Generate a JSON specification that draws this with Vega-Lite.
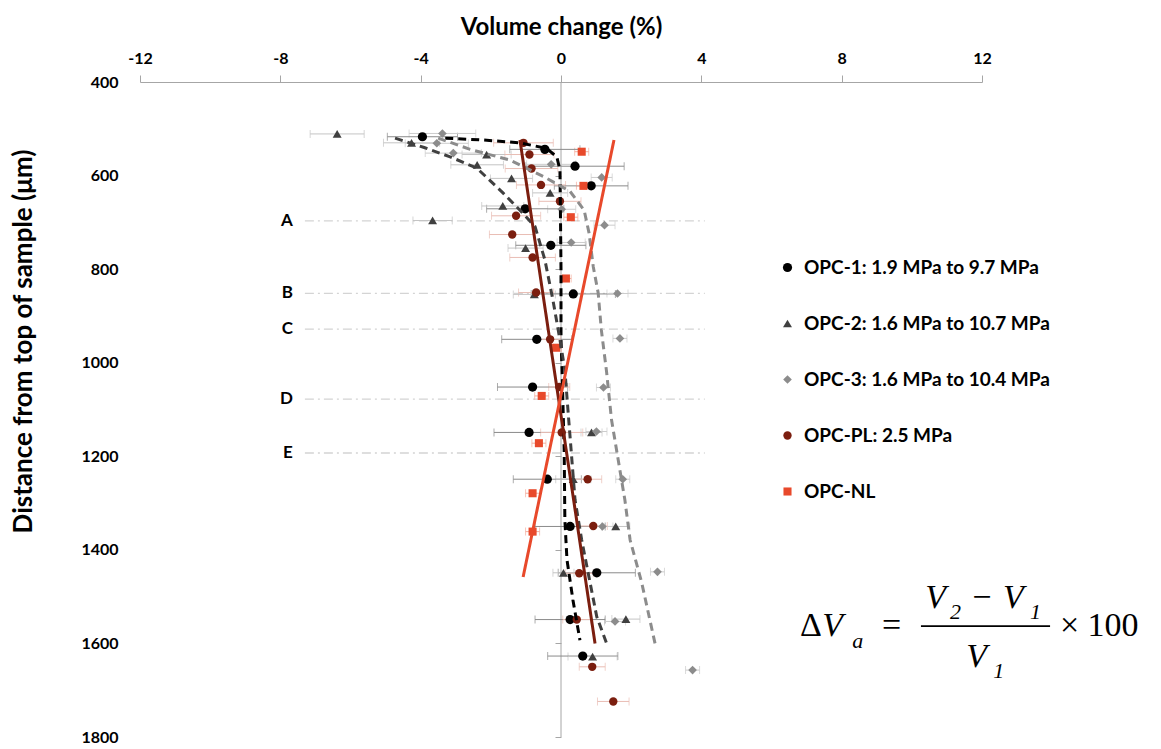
{
  "$schema": "https://vega.github.io/schema/vega-lite/v6.json",
  "width": 842,
  "height": 655,
  "autosize": {"type": "none"},
  "padding": {"left": 140, "top": 82, "right": 179, "bottom": 12},
  "background": "white",
  "config": {"view": {"stroke": null}, "font": "Lato"},
  "datasets": {
    "refs": [
      {"lab": "A", "x1": -7.3, "x2": 4.1, "d": 697},
      {"lab": "B", "x1": -7.3, "x2": 4.1, "d": 852},
      {"lab": "C", "x1": -7.3, "x2": 4.1, "d": 928},
      {"lab": "D", "x1": -7.3, "x2": 4.1, "d": 1078},
      {"lab": "E", "x1": -7.3, "x2": 4.1, "d": 1193}
    ],
    "pts": [
      {"s": "OPC-1: 1.9 MPa to 9.7 MPa", "x": -3.95, "d": 517, "e": 1.0},
      {"s": "OPC-1: 1.9 MPa to 9.7 MPa", "x": -0.46, "d": 544, "e": 1.0},
      {"s": "OPC-1: 1.9 MPa to 9.7 MPa", "x": 0.40, "d": 580, "e": 1.4},
      {"s": "OPC-1: 1.9 MPa to 9.7 MPa", "x": 0.86, "d": 622, "e": 1.05},
      {"s": "OPC-1: 1.9 MPa to 9.7 MPa", "x": -1.02, "d": 671, "e": 1.1},
      {"s": "OPC-1: 1.9 MPa to 9.7 MPa", "x": -0.29, "d": 749, "e": 1.0},
      {"s": "OPC-1: 1.9 MPa to 9.7 MPa", "x": 0.35, "d": 853, "e": 1.2},
      {"s": "OPC-1: 1.9 MPa to 9.7 MPa", "x": -0.69, "d": 950, "e": 1.0},
      {"s": "OPC-1: 1.9 MPa to 9.7 MPa", "x": -0.81, "d": 1052, "e": 1.0},
      {"s": "OPC-1: 1.9 MPa to 9.7 MPa", "x": -0.91, "d": 1149, "e": 1.0},
      {"s": "OPC-1: 1.9 MPa to 9.7 MPa", "x": -0.39, "d": 1249, "e": 0.97},
      {"s": "OPC-1: 1.9 MPa to 9.7 MPa", "x": 0.26, "d": 1350, "e": 1.0},
      {"s": "OPC-1: 1.9 MPa to 9.7 MPa", "x": 1.02, "d": 1449, "e": 1.1},
      {"s": "OPC-1: 1.9 MPa to 9.7 MPa", "x": 0.26, "d": 1549, "e": 1.0},
      {"s": "OPC-1: 1.9 MPa to 9.7 MPa", "x": 0.62, "d": 1627, "e": 1.0},
      {"s": "OPC-2: 1.6 MPa to 10.7 MPa", "x": -6.38, "d": 511, "e": 0.77},
      {"s": "OPC-2: 1.6 MPa to 10.7 MPa", "x": -4.26, "d": 530, "e": 0.8},
      {"s": "OPC-2: 1.6 MPa to 10.7 MPa", "x": -2.12, "d": 555, "e": 0.7},
      {"s": "OPC-2: 1.6 MPa to 10.7 MPa", "x": -2.39, "d": 577, "e": 0.75},
      {"s": "OPC-2: 1.6 MPa to 10.7 MPa", "x": -1.41, "d": 606, "e": 0.6},
      {"s": "OPC-2: 1.6 MPa to 10.7 MPa", "x": -0.31, "d": 637, "e": 0.5},
      {"s": "OPC-2: 1.6 MPa to 10.7 MPa", "x": -1.66, "d": 665, "e": 0.6},
      {"s": "OPC-2: 1.6 MPa to 10.7 MPa", "x": -3.66, "d": 696, "e": 0.56},
      {"s": "OPC-2: 1.6 MPa to 10.7 MPa", "x": -1.01, "d": 755, "e": 0.5},
      {"s": "OPC-2: 1.6 MPa to 10.7 MPa", "x": -0.76, "d": 854, "e": 0.6},
      {"s": "OPC-2: 1.6 MPa to 10.7 MPa", "x": 0.87, "d": 1149, "e": 0.3},
      {"s": "OPC-2: 1.6 MPa to 10.7 MPa", "x": 0.35, "d": 1249, "e": 0.5},
      {"s": "OPC-2: 1.6 MPa to 10.7 MPa", "x": 1.56, "d": 1350, "e": 0.4},
      {"s": "OPC-2: 1.6 MPa to 10.7 MPa", "x": 0.07, "d": 1449, "e": 0.3},
      {"s": "OPC-2: 1.6 MPa to 10.7 MPa", "x": 1.85, "d": 1548, "e": 0.4},
      {"s": "OPC-2: 1.6 MPa to 10.7 MPa", "x": 0.90, "d": 1628, "e": 0.7},
      {"s": "OPC-3: 1.6 MPa to 10.4 MPa", "x": -3.38, "d": 510, "e": 0.95},
      {"s": "OPC-3: 1.6 MPa to 10.4 MPa", "x": -3.54, "d": 531, "e": 0.9},
      {"s": "OPC-3: 1.6 MPa to 10.4 MPa", "x": -3.07, "d": 552, "e": 0.8},
      {"s": "OPC-3: 1.6 MPa to 10.4 MPa", "x": -0.28, "d": 576, "e": 0.7},
      {"s": "OPC-3: 1.6 MPa to 10.4 MPa", "x": 1.16, "d": 604, "e": 0.3},
      {"s": "OPC-3: 1.6 MPa to 10.4 MPa", "x": 0.02, "d": 672, "e": 0.4},
      {"s": "OPC-3: 1.6 MPa to 10.4 MPa", "x": 1.24, "d": 706, "e": 0.3},
      {"s": "OPC-3: 1.6 MPa to 10.4 MPa", "x": 0.29, "d": 743, "e": 0.4},
      {"s": "OPC-3: 1.6 MPa to 10.4 MPa", "x": 1.61, "d": 852, "e": 0.3},
      {"s": "OPC-3: 1.6 MPa to 10.4 MPa", "x": 1.68, "d": 948, "e": 0.2},
      {"s": "OPC-3: 1.6 MPa to 10.4 MPa", "x": 1.21, "d": 1053, "e": 0.2},
      {"s": "OPC-3: 1.6 MPa to 10.4 MPa", "x": 1.01, "d": 1147, "e": 0.3},
      {"s": "OPC-3: 1.6 MPa to 10.4 MPa", "x": 1.76, "d": 1249, "e": 0.2},
      {"s": "OPC-3: 1.6 MPa to 10.4 MPa", "x": 1.18, "d": 1350, "e": 0.3},
      {"s": "OPC-3: 1.6 MPa to 10.4 MPa", "x": 2.75, "d": 1447, "e": 0.2},
      {"s": "OPC-3: 1.6 MPa to 10.4 MPa", "x": 1.54, "d": 1553, "e": 0.3},
      {"s": "OPC-3: 1.6 MPa to 10.4 MPa", "x": 3.75, "d": 1657, "e": 0.2},
      {"s": "OPC-PL: 2.5 MPa", "x": -1.07, "d": 530, "e": 0.85},
      {"s": "OPC-PL: 2.5 MPa", "x": -0.90, "d": 555, "e": 0.7},
      {"s": "OPC-PL: 2.5 MPa", "x": -0.84, "d": 585, "e": 0.75},
      {"s": "OPC-PL: 2.5 MPa", "x": -0.57, "d": 620, "e": 0.7},
      {"s": "OPC-PL: 2.5 MPa", "x": -0.03, "d": 655, "e": 0.6},
      {"s": "OPC-PL: 2.5 MPa", "x": -1.28, "d": 686, "e": 0.7},
      {"s": "OPC-PL: 2.5 MPa", "x": -1.39, "d": 726, "e": 0.65},
      {"s": "OPC-PL: 2.5 MPa", "x": -0.81, "d": 775, "e": 0.65},
      {"s": "OPC-PL: 2.5 MPa", "x": -0.71, "d": 850, "e": 0.5},
      {"s": "OPC-PL: 2.5 MPa", "x": -0.31, "d": 950, "e": 0.3},
      {"s": "OPC-PL: 2.5 MPa", "x": -0.05, "d": 1052, "e": 0.3},
      {"s": "OPC-PL: 2.5 MPa", "x": 0.02, "d": 1149, "e": 0.6},
      {"s": "OPC-PL: 2.5 MPa", "x": 0.76, "d": 1249, "e": 0.4},
      {"s": "OPC-PL: 2.5 MPa", "x": 0.92, "d": 1349, "e": 0.4},
      {"s": "OPC-PL: 2.5 MPa", "x": 0.52, "d": 1450, "e": 0.4},
      {"s": "OPC-PL: 2.5 MPa", "x": 0.45, "d": 1549, "e": 0.4},
      {"s": "OPC-PL: 2.5 MPa", "x": 0.89, "d": 1650, "e": 0.37},
      {"s": "OPC-PL: 2.5 MPa", "x": 1.49, "d": 1724, "e": 0.45},
      {"s": "OPC-NL", "x": 0.59, "d": 549, "e": 0.2},
      {"s": "OPC-NL", "x": 0.64, "d": 622, "e": 0.2},
      {"s": "OPC-NL", "x": 0.28, "d": 689, "e": 0.2},
      {"s": "OPC-NL", "x": 0.14, "d": 820, "e": 0.15},
      {"s": "OPC-NL", "x": -0.14, "d": 968, "e": 0.15},
      {"s": "OPC-NL", "x": -0.55, "d": 1071, "e": 0.2},
      {"s": "OPC-NL", "x": -0.63, "d": 1172, "e": 0.2},
      {"s": "OPC-NL", "x": -0.81, "d": 1279, "e": 0.2},
      {"s": "OPC-NL", "x": -0.81, "d": 1361, "e": 0.2}
    ],
    "fits": [
      {"s": "OPC-1: 1.9 MPa to 9.7 MPa", "x": -3.3, "d": 520},
      {"s": "OPC-1: 1.9 MPa to 9.7 MPa", "x": -2.2, "d": 524},
      {"s": "OPC-1: 1.9 MPa to 9.7 MPa", "x": -1.17, "d": 530},
      {"s": "OPC-1: 1.9 MPa to 9.7 MPa", "x": -0.41, "d": 542},
      {"s": "OPC-1: 1.9 MPa to 9.7 MPa", "x": -0.12, "d": 560},
      {"s": "OPC-1: 1.9 MPa to 9.7 MPa", "x": -0.03, "d": 588},
      {"s": "OPC-1: 1.9 MPa to 9.7 MPa", "x": -0.02, "d": 650},
      {"s": "OPC-1: 1.9 MPa to 9.7 MPa", "x": 0.0, "d": 800},
      {"s": "OPC-1: 1.9 MPa to 9.7 MPa", "x": 0.0, "d": 950},
      {"s": "OPC-1: 1.9 MPa to 9.7 MPa", "x": 0.03, "d": 1015},
      {"s": "OPC-1: 1.9 MPa to 9.7 MPa", "x": 0.09, "d": 1186},
      {"s": "OPC-1: 1.9 MPa to 9.7 MPa", "x": 0.11, "d": 1336},
      {"s": "OPC-1: 1.9 MPa to 9.7 MPa", "x": 0.17, "d": 1421},
      {"s": "OPC-1: 1.9 MPa to 9.7 MPa", "x": 0.34, "d": 1507},
      {"s": "OPC-1: 1.9 MPa to 9.7 MPa", "x": 0.54, "d": 1593},
      {"s": "OPC-2: 1.6 MPa to 10.7 MPa", "x": -4.73, "d": 520},
      {"s": "OPC-2: 1.6 MPa to 10.7 MPa", "x": -3.9, "d": 540},
      {"s": "OPC-2: 1.6 MPa to 10.7 MPa", "x": -3.16, "d": 560},
      {"s": "OPC-2: 1.6 MPa to 10.7 MPa", "x": -2.40, "d": 584},
      {"s": "OPC-2: 1.6 MPa to 10.7 MPa", "x": -1.64, "d": 638},
      {"s": "OPC-2: 1.6 MPa to 10.7 MPa", "x": -1.17, "d": 674},
      {"s": "OPC-2: 1.6 MPa to 10.7 MPa", "x": -0.74, "d": 709},
      {"s": "OPC-2: 1.6 MPa to 10.7 MPa", "x": -0.46, "d": 780},
      {"s": "OPC-2: 1.6 MPa to 10.7 MPa", "x": -0.23, "d": 866},
      {"s": "OPC-2: 1.6 MPa to 10.7 MPa", "x": -0.03, "d": 951},
      {"s": "OPC-2: 1.6 MPa to 10.7 MPa", "x": 0.11, "d": 1015},
      {"s": "OPC-2: 1.6 MPa to 10.7 MPa", "x": 0.22, "d": 1122},
      {"s": "OPC-2: 1.6 MPa to 10.7 MPa", "x": 0.40, "d": 1293},
      {"s": "OPC-2: 1.6 MPa to 10.7 MPa", "x": 0.59, "d": 1379},
      {"s": "OPC-2: 1.6 MPa to 10.7 MPa", "x": 1.02, "d": 1543},
      {"s": "OPC-2: 1.6 MPa to 10.7 MPa", "x": 1.30, "d": 1600},
      {"s": "OPC-3: 1.6 MPa to 10.4 MPa", "x": -3.5, "d": 520},
      {"s": "OPC-3: 1.6 MPa to 10.4 MPa", "x": -2.59, "d": 544},
      {"s": "OPC-3: 1.6 MPa to 10.4 MPa", "x": -1.45, "d": 567},
      {"s": "OPC-3: 1.6 MPa to 10.4 MPa", "x": -0.50, "d": 602},
      {"s": "OPC-3: 1.6 MPa to 10.4 MPa", "x": 0.26, "d": 634},
      {"s": "OPC-3: 1.6 MPa to 10.4 MPa", "x": 0.66, "d": 674},
      {"s": "OPC-3: 1.6 MPa to 10.4 MPa", "x": 0.80, "d": 723},
      {"s": "OPC-3: 1.6 MPa to 10.4 MPa", "x": 0.92, "d": 795},
      {"s": "OPC-3: 1.6 MPa to 10.4 MPa", "x": 1.06, "d": 851},
      {"s": "OPC-3: 1.6 MPa to 10.4 MPa", "x": 1.15, "d": 930},
      {"s": "OPC-3: 1.6 MPa to 10.4 MPa", "x": 1.30, "d": 1020},
      {"s": "OPC-3: 1.6 MPa to 10.4 MPa", "x": 1.44, "d": 1122},
      {"s": "OPC-3: 1.6 MPa to 10.4 MPa", "x": 1.82, "d": 1293},
      {"s": "OPC-3: 1.6 MPa to 10.4 MPa", "x": 1.97, "d": 1379},
      {"s": "OPC-3: 1.6 MPa to 10.4 MPa", "x": 2.30, "d": 1470},
      {"s": "OPC-3: 1.6 MPa to 10.4 MPa", "x": 2.68, "d": 1600},
      {"s": "OPC-PL: 2.5 MPa", "x": -1.17, "d": 524},
      {"s": "OPC-PL: 2.5 MPa", "x": 0.97, "d": 1600},
      {"s": "OPC-NL", "x": 1.51, "d": 524},
      {"s": "OPC-NL", "x": -1.08, "d": 1458}
    ],
    "eqUpright": [
      {"t": "Δ", "x": 6.81, "d": 1563},
      {"t": "=", "x": 9.15, "d": 1563},
      {"t": "−", "x": 11.72, "d": 1502},
      {"t": "× 100", "x": 14.22, "d": 1563}
    ],
    "eqItalic": [
      {"t": "V", "x": 7.45, "d": 1563},
      {"t": "V", "x": 10.38, "d": 1502},
      {"t": "V", "x": 12.6, "d": 1502},
      {"t": "V", "x": 11.55, "d": 1629}
    ],
    "eqSub": [
      {"t": "a", "x": 8.3, "d": 1594},
      {"t": "2", "x": 11.09, "d": 1533},
      {"t": "1", "x": 13.37, "d": 1533},
      {"t": "1", "x": 12.32, "d": 1659}
    ],
    "eqBar": [
      {"x1": 10.26, "x2": 13.94, "d": 1563}
    ]
  },
  "layer": [
    {
      "data": {"name": "refs"},
      "mark": {"type": "rule", "color": "#d4d4d4", "strokeWidth": 1.3, "strokeDash": [9, 4, 2, 4]},
      "encoding": {
        "x": {
          "field": "x1", "type": "quantitative",
          "scale": {"domain": [-12, 12], "nice": false, "zero": false},
          "axis": {
            "orient": "top", "title": "Volume change (%)",
            "titleFont": "Lato", "titleFontWeight": "bold", "titleFontSize": 24, "titleColor": "black", "titlePadding": 11,
            "values": [-12, -8, -4, 0, 4, 8, 12], "labelExpr": "'' + datum.value",
            "labelFont": "Lato", "labelFontWeight": "bold", "labelFontSize": 16, "labelColor": "black", "labelPadding": 9, "labelFlush": false,
            "domainColor": "#a6a6a6", "tickColor": "#a6a6a6", "tickSize": 7, "grid": false
          }
        },
        "x2": {"field": "x2"},
        "y": {
          "field": "d", "type": "quantitative",
          "scale": {"domain": [400, 1800], "reverse": true, "nice": false, "zero": false},
          "axis": {
            "orient": "left", "title": "Distance from top of sample  (μm)",
            "titleFont": "Lato", "titleFontWeight": "bold", "titleFontSize": 26, "titleColor": "black",
            "titleX": -117, "titleY": 259, "titleAngle": -90, "titleAlign": "center", "titleBaseline": "middle",
            "values": [400, 600, 800, 1000, 1200, 1400, 1600, 1800], "format": "d",
            "labelFont": "Lato", "labelFontWeight": "bold", "labelFontSize": 16, "labelColor": "black", "labelPadding": 22,
            "domain": false, "ticks": false, "tickSize": 0, "grid": false
          }
        }
      }
    },
    {
      "data": {"name": "refs"},
      "mark": {"type": "text", "align": "right", "baseline": "middle", "dx": -12, "font": "Lato", "fontWeight": "bold", "fontSize": 17, "color": "black"},
      "encoding": {
        "x": {"field": "x1", "type": "quantitative", "axis": null},
        "y": {"field": "d", "type": "quantitative", "axis": null},
        "text": {"field": "lab"}
      }
    },
    {
      "data": {"values": [{}]},
      "mark": {"type": "rule", "color": "#a6a6a6", "strokeWidth": 1},
      "encoding": {
        "x": {"datum": 0, "type": "quantitative", "axis": null},
        "y": {
          "datum": 400, "type": "quantitative",
          "axis": {"orient": "left", "offset": -421, "title": null, "labels": false, "domain": false, "ticks": true, "tickSize": 6, "tickColor": "#a6a6a6", "grid": false, "values": [400, 600, 800, 1000, 1200, 1400, 1600, 1800]}
        },
        "y2": {"datum": 1800}
      }
    },
    {
      "data": {"name": "pts"},
      "mark": {"type": "errorbar", "ticks": {"size": 8}, "thickness": 1},
      "encoding": {
        "x": {"field": "x", "type": "quantitative", "axis": null},
        "xError": {"field": "e"},
        "y": {"field": "d", "type": "quantitative", "axis": null},
        "color": {
          "field": "s", "type": "nominal",
          "scale": {
            "domain": ["OPC-1: 1.9 MPa to 9.7 MPa", "OPC-2: 1.6 MPa to 10.7 MPa", "OPC-3: 1.6 MPa to 10.4 MPa", "OPC-PL: 2.5 MPa", "OPC-NL"],
            "range": ["#8a8a8a", "#c4c4c4", "#cccccc", "#e9bdb4", "#f3ad9c"]
          },
          "legend": null
        }
      }
    },
    {
      "data": {"name": "pts"},
      "mark": {"type": "point", "filled": true, "opacity": 1},
      "encoding": {
        "x": {"field": "x", "type": "quantitative", "axis": null},
        "y": {"field": "d", "type": "quantitative", "axis": null},
        "color": {
          "field": "s", "type": "nominal",
          "scale": {
            "domain": ["OPC-1: 1.9 MPa to 9.7 MPa", "OPC-2: 1.6 MPa to 10.7 MPa", "OPC-3: 1.6 MPa to 10.4 MPa", "OPC-PL: 2.5 MPa", "OPC-NL"],
            "range": ["#000000", "#404040", "#8c8c8c", "#7b1e0f", "#e8492b"]
          },
          "legend": {
            "orient": "none", "legendX": 638, "legendY": 176, "title": null, "padding": 0,
            "labelFont": "Lato", "labelFontWeight": "bold", "labelFontSize": 19, "labelColor": "black",
            "labelOffset": 7, "symbolSize": 26, "rowPadding": 36, "labelLimit": 400
          }
        },
        "shape": {
          "field": "s", "type": "nominal",
          "scale": {
            "domain": ["OPC-1: 1.9 MPa to 9.7 MPa", "OPC-2: 1.6 MPa to 10.7 MPa", "OPC-3: 1.6 MPa to 10.4 MPa", "OPC-PL: 2.5 MPa", "OPC-NL"],
            "range": ["circle", "triangle-up", "diamond", "circle", "square"]
          },
          "legend": {
            "orient": "none", "legendX": 638, "legendY": 176, "title": null, "padding": 0,
            "labelFont": "Lato", "labelFontWeight": "bold", "labelFontSize": 19, "labelColor": "black",
            "labelOffset": 7, "symbolSize": 26, "rowPadding": 36, "labelLimit": 400
          }
        },
        "size": {
          "field": "s", "type": "nominal",
          "scale": {
            "domain": ["OPC-1: 1.9 MPa to 9.7 MPa", "OPC-2: 1.6 MPa to 10.7 MPa", "OPC-3: 1.6 MPa to 10.4 MPa", "OPC-PL: 2.5 MPa", "OPC-NL"],
            "range": [85, 65, 50, 85, 75]
          },
          "legend": null
        }
      }
    },
    {
      "data": {"name": "fits"},
      "mark": {"type": "line", "strokeWidth": 3},
      "encoding": {
        "x": {"field": "x", "type": "quantitative", "axis": null},
        "y": {"field": "d", "type": "quantitative", "axis": null},
        "order": {"field": "d", "type": "quantitative"},
        "color": {
          "field": "s", "type": "nominal",
          "scale": {
            "domain": ["OPC-1: 1.9 MPa to 9.7 MPa", "OPC-2: 1.6 MPa to 10.7 MPa", "OPC-3: 1.6 MPa to 10.4 MPa", "OPC-PL: 2.5 MPa", "OPC-NL"],
            "range": ["#000000", "#404040", "#8c8c8c", "#7b1e0f", "#e8492b"]
          },
          "legend": null
        },
        "strokeDash": {
          "field": "s", "type": "nominal",
          "scale": {
            "domain": ["OPC-1: 1.9 MPa to 9.7 MPa", "OPC-2: 1.6 MPa to 10.7 MPa", "OPC-3: 1.6 MPa to 10.4 MPa", "OPC-PL: 2.5 MPa", "OPC-NL"],
            "range": [[8, 5], [8, 5], [8, 5], [1, 0], [1, 0]]
          },
          "legend": null
        }
      }
    },
    {
      "data": {"name": "eqBar"},
      "mark": {"type": "rule", "color": "black", "strokeWidth": 1.6},
      "encoding": {
        "x": {"field": "x1", "type": "quantitative", "axis": null},
        "x2": {"field": "x2"},
        "y": {"field": "d", "type": "quantitative", "axis": null}
      }
    },
    {
      "data": {"name": "eqUpright"},
      "mark": {"type": "text", "align": "left", "baseline": "middle", "font": "Liberation Serif", "fontSize": 34, "color": "black"},
      "encoding": {
        "x": {"field": "x", "type": "quantitative", "axis": null},
        "y": {"field": "d", "type": "quantitative", "axis": null},
        "text": {"field": "t"}
      }
    },
    {
      "data": {"name": "eqItalic"},
      "mark": {"type": "text", "align": "left", "baseline": "middle", "font": "Liberation Serif", "fontStyle": "italic", "fontSize": 34, "color": "black"},
      "encoding": {
        "x": {"field": "x", "type": "quantitative", "axis": null},
        "y": {"field": "d", "type": "quantitative", "axis": null},
        "text": {"field": "t"}
      }
    },
    {
      "data": {"name": "eqSub"},
      "mark": {"type": "text", "align": "left", "baseline": "middle", "font": "Liberation Serif", "fontStyle": "italic", "fontSize": 22, "color": "black"},
      "encoding": {
        "x": {"field": "x", "type": "quantitative", "axis": null},
        "y": {"field": "d", "type": "quantitative", "axis": null},
        "text": {"field": "t"}
      }
    }
  ],
  "resolve": {
    "scale": {"color": "independent", "shape": "independent", "size": "independent", "strokeDash": "independent"},
    "axis": {"x": "independent", "y": "independent"}
  }
}
